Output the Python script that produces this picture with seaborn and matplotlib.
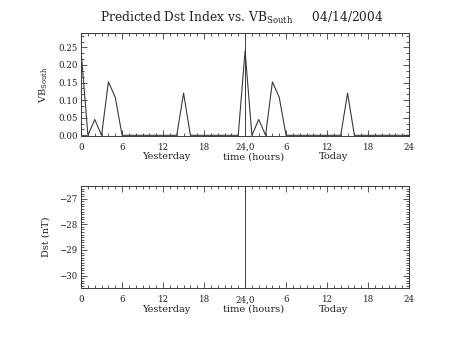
import matplotlib
matplotlib.use("Agg")
import matplotlib.pyplot as plt
import matplotlib.transforms as mtransforms
from matplotlib.ticker import MultipleLocator, FixedLocator, FixedFormatter
import numpy as np
import pandas as pd
import seaborn as sns

# Hourly southward IMF (VB_South) over the two days, hours 0..48
hours = list(range(49))
vb_yesterday = [0.24, 0.0, 0.045, 0.0, 0.152, 0.108, 0.0, 0.0, 0.0, 0.0, 0.0, 0.0,
                0.0, 0.0, 0.0, 0.12, 0.0, 0.0, 0.0, 0.0, 0.0, 0.0, 0.0, 0.0]
vb_today = [0.24, 0.0, 0.045, 0.0, 0.152, 0.108, 0.0, 0.0, 0.0, 0.0, 0.0, 0.0,
            0.0, 0.0, 0.0, 0.12, 0.0, 0.0, 0.0, 0.0, 0.0, 0.0, 0.0, 0.0, 0.0]
x_ticks = [0, 6, 12, 18, 24, 30, 36, 42, 48]
x_tick_labels = ["0", "6", "12", "18", "24,0", "6", "12", "18", "24"]
vb_ticks = [0.00, 0.05, 0.10, 0.15, 0.20, 0.25]
dst_ticks = [-27, -28, -29, -30]
day_boundary = 24
title_text = "Predicted Dst Index vs. VB$_{\\mathrm{South}}$     04/14/2004"
date_labels = [("Yesterday", 12.4), ("time (hours)", 25.2), ("Today", 37.0)]

df = pd.DataFrame({"hour": hours, "vb": vb_yesterday + vb_today})

sns.set_style("ticks")
plt.rcParams["font.family"] = ["DejaVu Serif"]
plt.rcParams["mathtext.fontset"] = "dejavuserif"

ink = "#3a3a3a"
fig = plt.figure(figsize=(4.53, 3.40), dpi=100)
ax1 = fig.add_axes([0.179, 0.601, 0.724, 0.302])
ax2 = fig.add_axes([0.179, 0.152, 0.724, 0.301])

sns.lineplot(data=df, x="hour", y="vb", ax=ax1, color=ink, linewidth=0.8)

for ax in (ax1, ax2):
    ax.set_xlim(0, 48)
    ax.xaxis.set_major_locator(FixedLocator(x_ticks))
    ax.xaxis.set_major_formatter(FixedFormatter(x_tick_labels))
    ax.xaxis.set_minor_locator(MultipleLocator(1))
    ax.tick_params(which="both", direction="in", top=True, right=True,
                   colors=ink, labelcolor="#222222", width=0.6)
    ax.tick_params(which="major", length=4, labelsize=6.2)
    ax.tick_params(which="minor", length=2)
    ax.tick_params(axis="x", pad=5)
    ax.tick_params(axis="y", pad=2.5)
    for sp in ax.spines.values():
        sp.set_color(ink)
        sp.set_linewidth(0.7)
    ax.axvline(day_boundary, color=ink, linewidth=0.7)
    ax.set_xlabel("")
    trans = mtransforms.blended_transform_factory(ax.transData, ax.transAxes)
    for txt, xc in date_labels:
        ax.text(xc, -0.23, txt, transform=trans, ha="center", va="baseline",
                fontsize=7, color="#222222")

ax1.set_ylim(-0.001, 0.291)
ax1.yaxis.set_major_locator(FixedLocator(vb_ticks))
ax1.yaxis.set_major_formatter(FixedFormatter([f"{v:.2f}" for v in vb_ticks]))
ax1.yaxis.set_minor_locator(MultipleLocator(0.05 / 3))
ax1.set_ylabel("VB$_{\\mathrm{South}}$", fontsize=7, color="#222222")
ax1.yaxis.set_label_coords(-0.095, 0.5)

ax2.set_ylim(-30.5, -26.5)
ax2.yaxis.set_major_locator(FixedLocator(dst_ticks))
ax2.yaxis.set_major_formatter(FixedFormatter([f"\u2212{abs(v)}" for v in dst_ticks]))
ax2.yaxis.set_minor_locator(MultipleLocator(0.1))
ax2.set_ylabel("Dst (nT)", fontsize=7, color="#222222")
ax2.yaxis.set_label_coords(-0.093, 0.5)

fig.text(0.533, 0.948, title_text, ha="center", va="center", fontsize=8.8,
         color="#222222")

fig.savefig("out.png", dpi=100)
